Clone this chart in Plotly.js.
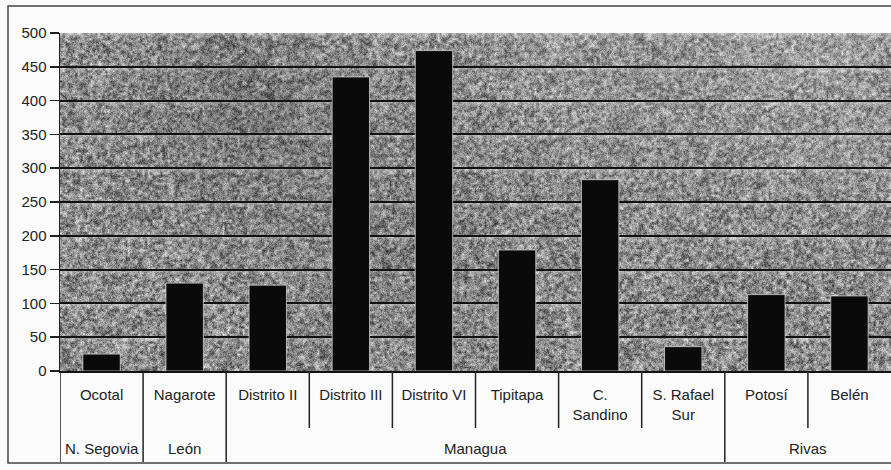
<!DOCTYPE html>
<html>
<head>
<meta charset="utf-8">
<script src="https://cdn.plot.ly/plotly-3.0.1.min.js"></script>
<style>
  html, body { margin: 0; padding: 0; background: #fbfbfb; }
  #chart { width: 891px; height: 470px; }
</style>
</head>
<body>
<div id="chart"></div>
<script>
// Municipios, their departamento and the plotted value for each
const municipios = ['Ocotal', 'Nagarote', 'Distrito II', 'Distrito III', 'Distrito VI',
                    'Tipitapa', 'C. Sandino', 'S. Rafael Sur', 'Potosí', 'Belén'];
const etiquetas = ['Ocotal', 'Nagarote', 'Distrito II', 'Distrito III', 'Distrito VI',
                   'Tipitapa', 'C.<br>Sandino', 'S. Rafael<br>Sur', 'Potosí', 'Belén'];
const departamentos = ['N. Segovia', 'León', 'Managua', 'Managua', 'Managua',
                       'Managua', 'Managua', 'Managua', 'Rivas', 'Rivas'];
const valores = [25, 130, 127, 435, 474, 179, 283, 36, 113, 111];
const yTicks = [0, 50, 100, 150, 200, 250, 300, 350, 400, 450, 500];
const yMax = 500;

// Pixel geometry of the page
const W = 891, H = 470;
const M = { l: 60, r: 0, t: 33, b: 99 };
const plotW = W - M.l - M.r, plotH = H - M.t - M.b;
const px = dy => -dy / plotH;            // pixels below the x axis -> paper y
const FONT = 'Liberation Sans, Arial, sans-serif';

// Grainy grey fill of the plotting area (seeded so it is stable)
function mulberry32(a) {
  return function () {
    a |= 0; a = a + 0x6D2B79F5 | 0;
    let t = Math.imul(a ^ a >>> 15, 1 | a);
    t = t + Math.imul(t ^ t >>> 7, 61 | t) ^ t;
    return ((t ^ t >>> 14) >>> 0) / 4294967296;
  };
}
function ruido(w, h, rnd, lo, hi) {
  const cv = document.createElement('canvas');
  cv.width = w; cv.height = h;
  const c = cv.getContext('2d');
  const img = c.createImageData(w, h);
  for (let k = 0; k < w * h; k++) {
    const r = rnd();
    let v;
    if (r < 0.30) v = lo + rnd() * 50;
    else if (r < 0.75) v = 125 + rnd() * 45;
    else v = 175 + rnd() * (hi - 175);
    img.data[4 * k] = img.data[4 * k + 1] = img.data[4 * k + 2] = v;
    img.data[4 * k + 3] = 255;
  }
  c.putImageData(img, 0, 0);
  return cv;
}
function textura(w, h) {
  const rnd = mulberry32(20240611);
  const out = document.createElement('canvas');
  out.width = w; out.height = h;
  const o = out.getContext('2d');
  // coarse blotches, enlarged with smoothing
  o.imageSmoothingEnabled = true;
  o.drawImage(ruido(Math.ceil(w / 2.5), Math.ceil(h / 2.5), rnd, 45, 245), 0, 0, w, h);
  // finer speckle on top
  o.globalAlpha = 0.35;
  o.drawImage(ruido(w, h, rnd, 40, 240), 0, 0);
  o.globalAlpha = 1;
  // light strip just under every grid line
  yTicks.forEach(t => {
    const y = (1 - t / yMax) * h;
    const g = o.createLinearGradient(0, y, 0, y + 6);
    g.addColorStop(0, 'rgba(255,255,255,0.35)');
    g.addColorStop(1, 'rgba(255,255,255,0)');
    o.fillStyle = g;
    o.fillRect(0, y, w, 6);
  });
  // uneven shading of the fill
  const sombras = [
    [0.22, 0.25, 0.22, 'rgba(0,0,0,0.18)'],
    [0.40, 0.60, 0.28, 'rgba(0,0,0,0.10)'],
    [0.90, 0.05, 0.35, 'rgba(255,255,255,0.20)'],
    [0.60, 0.02, 0.25, 'rgba(255,255,255,0.12)']
  ];
  sombras.forEach(([cx, cy, rr, col]) => {
    const g = o.createRadialGradient(cx * w, cy * h, 0, cx * w, cy * h, rr * w);
    g.addColorStop(0, col);
    g.addColorStop(1, 'rgba(128,128,128,0)');
    o.fillStyle = g;
    o.fillRect(0, 0, w, h);
  });
  return out.toDataURL('image/png');
}

const idx = municipios.map((_, i) => i);

// Divider lines under the category axis
const shapes = [];
idx.forEach(i => {
  const nuevoGrupo = i === 0 || departamentos[i] !== departamentos[i - 1];
  shapes.push({
    type: 'line', xref: 'x', yref: 'paper',
    x0: i - 0.5, x1: i - 0.5, y0: 0, y1: px(nuevoGrupo ? 91 : 57),
    line: { color: '#222', width: 1.5 }
  });
});
// outer frame of the chart
shapes.push({
  type: 'rect', xref: 'paper', yref: 'paper',
  x0: (8 - M.l) / plotW, x1: 1.01, y0: px(92), y1: 1 + 27 / plotH,
  line: { color: '#444', width: 1.5 }, fillcolor: 'rgba(0,0,0,0)', layer: 'below'
});

// Department labels centred under their municipios
const annotations = [];
const grupos = [];
departamentos.forEach((d, i) => {
  if (i === 0 || d !== departamentos[i - 1]) grupos.push({ nombre: d, desde: i, hasta: i });
  else grupos[grupos.length - 1].hasta = i;
});
grupos.forEach(g => {
  annotations.push({
    xref: 'x', yref: 'paper', x: (g.desde + g.hasta) / 2, y: px(77),
    text: g.nombre, showarrow: false, xanchor: 'center', yanchor: 'middle',
    font: { family: FONT, size: 15, color: '#222' }
  });
});

const trace = {
  type: 'bar',
  x: idx,
  y: valores,
  marker: { color: '#0a0a0a', line: { color: 'rgba(225,225,225,0.7)', width: 1 } },
  hoverinfo: 'skip'
};

const layout = {
  width: W, height: H,
  margin: M,
  paper_bgcolor: '#fbfbfb',
  plot_bgcolor: 'rgba(0,0,0,0)',
  showlegend: false,
  bargap: 0.55,
  font: { family: FONT, size: 15, color: '#222' },
  xaxis: {
    range: [-0.5, municipios.length - 0.5],
    tickmode: 'array', tickvals: idx, ticktext: etiquetas,
    ticks: '', showgrid: false, zeroline: false,
    showline: true, linecolor: '#111', linewidth: 2,
    ticklabelstandoff: 9,
    tickfont: { family: FONT, size: 15, color: '#222' },
    fixedrange: true
  },
  yaxis: {
    range: [0, yMax],
    tickmode: 'array', tickvals: yTicks,
    ticks: 'outside', ticklen: 9, tickwidth: 1.5, tickcolor: '#222',
    showgrid: true, gridcolor: '#111', gridwidth: 2,
    zeroline: false, showline: true, linecolor: '#222', linewidth: 1.5,
    tickfont: { family: FONT, size: 15, color: '#222' },
    fixedrange: true
  },
  shapes: shapes,
  annotations: annotations,
  images: [{
    source: textura(plotW, plotH),
    xref: 'paper', yref: 'paper', x: 0, y: 1, sizex: 1, sizey: 1,
    xanchor: 'left', yanchor: 'top', sizing: 'stretch', layer: 'below'
  }]
};

Plotly.newPlot('chart', [trace], layout, { staticPlot: true, displayModeBar: false });
</script>
</body>
</html>
